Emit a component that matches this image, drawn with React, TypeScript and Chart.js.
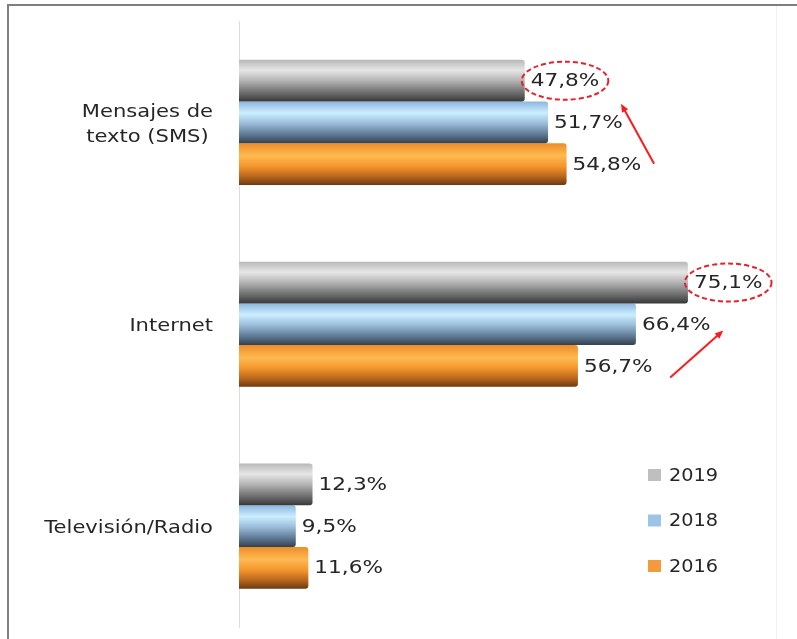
import React, { useEffect, useRef } from 'react';
import { Chart, registerables } from 'chart.js';

Chart.register(...registerables);

// ---------- data ----------
const categories: string[][] = [['Mensajes de', 'texto (SMS)'], ['Internet'], ['Televisión/Radio']];
const seriesLabels = ['2019', '2018', '2016'];
const values2019 = [47.8, 75.1, 12.3];
const values2018 = [51.7, 66.4, 9.5];
const values2016 = [54.8, 56.7, 11.6];
// labels circled with a dashed ellipse: [datasetIndex, dataIndex]
const highlighted: [number, number][] = [[0, 0], [0, 1]];

// ---------- styles ----------
const FONT = '"DejaVu Sans", "Open Sans", sans-serif';
const TEXT_COLOR = '#262626';
const legendColors = ['#bfbfbf', '#9dc3e6', '#f59a3c'];
const gradientStops: [number, string][][] = [
  [[0, '#b8b8b8'], [0.25, '#e6e6e6'], [0.5, '#b4b4b4'], [0.8, '#6a6a6a'], [1, '#383838']],
  [[0, '#8db6de'], [0.27, '#cbeeff'], [0.52, '#9cbddb'], [0.8, '#5b7691'], [1, '#34404c']],
  [[0, '#ee8d28'], [0.3, '#ffba52'], [0.55, '#f5962e'], [0.8, '#b8661c'], [1, '#6a3a12']],
];
// arrows relative to the centre of each highlighted label: [tailDx, tailDy, headDx, headDy]
const arrowOffsets: [number, number, number, number][] = [
  [89, 83, 56, 23],
  [-58, 95, -5, 48],
];

const fmt = (v: number) => v.toFixed(1).replace('.', ',') + '%';

// draws text slightly widened (the original uses a wide rendering of a Calibri-like face)
function drawText(ctx: CanvasRenderingContext2D, text: string, x: number, y: number, size: number, stretch: number, align: 'left' | 'right' | 'center') {
  ctx.font = `${size}px ${FONT}`;
  const w = ctx.measureText(text).width * stretch;
  let left = x;
  if (align === 'right') left = x - w;
  else if (align === 'center') left = x - w / 2;
  ctx.save();
  ctx.translate(left, y);
  ctx.scale(stretch, 1);
  ctx.textAlign = 'left';
  ctx.textBaseline = 'middle';
  ctx.fillText(text, 0, 0);
  ctx.restore();
  return w;
}
function textWidth(ctx: CanvasRenderingContext2D, text: string, size: number, stretch: number) {
  ctx.font = `${size}px ${FONT}`;
  return ctx.measureText(text).width * stretch;
}

const gradientPlugin = {
  id: 'barGradient',
  beforeDatasetsDraw(chart: any) {
    const ctx = chart.ctx;
    chart.data.datasets.forEach((_ds: any, di: number) => {
      const meta = chart.getDatasetMeta(di);
      meta.data.forEach((el: any) => {
        const top = el.y - el.height / 2;
        const g = ctx.createLinearGradient(0, top, 0, top + el.height);
        gradientStops[di].forEach(([o, c]) => g.addColorStop(o, c));
        el.options.backgroundColor = g;
      });
    });
  },
};

const categoryLabelPlugin = {
  id: 'categoryLabels',
  afterDraw(chart: any) {
    const ctx = chart.ctx;
    const ys = chart.scales.y;
    const right = chart.chartArea.left - 26;
    const size = 18, stretch = 1.17, lh = 25;
    ctx.save();
    ctx.fillStyle = TEXT_COLOR;
    categories.forEach((lines, i) => {
      const cy = ys.getPixelForValue(i) + 2;
      const widths = lines.map((l) => textWidth(ctx, l, size, stretch));
      const bw = Math.max(...widths);
      const cx = right - bw / 2;
      lines.forEach((l, k) => {
        const y = cy + (k - (lines.length - 1) / 2) * lh;
        drawText(ctx, l, cx, y, size, stretch, 'center');
      });
    });
    ctx.restore();
  },
};

const labelPlugin = {
  id: 'valueLabels',
  afterDatasetsDraw(chart: any) {
    const ctx = chart.ctx;
    const size = 18, stretch = 1.2;
    ctx.save();
    ctx.fillStyle = TEXT_COLOR;
    const centres: { x: number; y: number; w: number }[] = [];
    chart.data.datasets.forEach((ds: any, di: number) => {
      const meta = chart.getDatasetMeta(di);
      meta.data.forEach((el: any, i: number) => {
        const t = fmt(ds.data[i]);
        const x = el.x + 6;
        ctx.fillStyle = TEXT_COLOR;
        const w = drawText(ctx, t, x, el.y + 1, size, stretch, 'left');
        if (highlighted.some(([d, k]) => d === di && k === i)) {
          centres.push({ x: x + w / 2, y: el.y, w });
        }
      });
    });
    // dashed ellipses
    ctx.strokeStyle = '#e8202a';
    ctx.lineWidth = 2;
    ctx.setLineDash([5, 3]);
    centres.forEach((c) => {
      ctx.beginPath();
      ctx.ellipse(c.x, c.y, c.w / 2 + 9, 19, 0, 0, Math.PI * 2);
      ctx.stroke();
    });
    ctx.setLineDash([]);
    // arrows
    ctx.strokeStyle = '#ff1a1a';
    ctx.fillStyle = '#ff1a1a';
    centres.forEach((c, k) => {
      const off = arrowOffsets[k];
      if (!off) return;
      const tx = c.x + off[0], ty = c.y + off[1], hx = c.x + off[2], hy = c.y + off[3];
      const ang = Math.atan2(hy - ty, hx - tx);
      const hl = 9;
      ctx.beginPath();
      ctx.moveTo(tx, ty);
      ctx.lineTo(hx - Math.cos(ang) * hl * 0.8, hy - Math.sin(ang) * hl * 0.8);
      ctx.stroke();
      ctx.beginPath();
      ctx.moveTo(hx, hy);
      ctx.lineTo(hx - hl * Math.cos(ang - 0.4), hy - hl * Math.sin(ang - 0.4));
      ctx.lineTo(hx - hl * Math.cos(ang + 0.4), hy - hl * Math.sin(ang + 0.4));
      ctx.closePath();
      ctx.fill();
    });
    ctx.restore();
  },
};

const legendPlugin = {
  id: 'cornerLegend',
  afterDraw(chart: any) {
    const ctx = chart.ctx;
    const a = chart.chartArea;
    ctx.save();
    seriesLabels.forEach((lab, i) => {
      const y = a.bottom - 152 + i * 45.5;
      const x = a.right - 129;
      ctx.fillStyle = legendColors[i];
      ctx.fillRect(x, y - 6, 13, 12);
      ctx.fillStyle = TEXT_COLOR;
      drawText(ctx, lab, x + 21, y + 1, 18, 1.07, 'left');
    });
    ctx.restore();
  },
};

export default function App() {
  const ref = useRef<HTMLCanvasElement | null>(null);
  useEffect(() => {
    if (!ref.current) return;
    const solid = (c: string) => () => c;
    const chart = new Chart(ref.current, {
      type: 'bar',
      data: {
        labels: categories.map((l) => l.join(' ')),
        datasets: [
          { label: seriesLabels[0], data: values2019, backgroundColor: solid(legendColors[0]) as any },
          { label: seriesLabels[1], data: values2018, backgroundColor: solid(legendColors[1]) as any },
          { label: seriesLabels[2], data: values2016, backgroundColor: solid(legendColors[2]) as any },
        ],
      },
      options: {
        indexAxis: 'y',
        animation: false,
        responsive: false,
        maintainAspectRatio: false,
        devicePixelRatio: 1,
        layout: { padding: { left: 0, right: 20, top: 21.5, bottom: 12 } },
        datasets: {
          bar: {
            categoryPercentage: 0.62,
            barPercentage: 1,
            borderWidth: 0,
            borderRadius: { topLeft: 0, bottomLeft: 0, topRight: 3, bottomRight: 3 } as any,
            borderSkipped: false,
          },
        },
        plugins: {
          legend: { display: false },
          tooltip: { enabled: false },
          title: { display: false },
        },
        scales: {
          x: {
            display: false,
            min: 0,
            max: 90,
          },
          y: {
            grid: { display: false, drawTicks: false },
            border: { display: true, color: '#dcdcdc', width: 1 },
            ticks: { display: false },
            afterFit: (scale: any) => {
              scale.width = 239;
              scale.paddingTop = 0;
              scale.paddingBottom = 0;
            },
          },
        },
      },
      plugins: [gradientPlugin, labelPlugin, categoryLabelPlugin, legendPlugin],
    });
    return () => chart.destroy();
  }, []);

  return (
    <div style={{ position: 'fixed', left: 0, top: 0, width: 797, height: 639, background: '#fff', overflow: 'hidden' }}>
      <div
        style={{
          position: 'absolute',
          left: 7,
          top: 4,
          width: 800,
          height: 650,
          borderTop: '2px solid #7f7f7f',
          borderLeft: '2px solid #7f7f7f',
          boxSizing: 'border-box',
        }}
      />
      <div style={{ position: 'absolute', left: 776, top: 6, width: 1, height: 633, background: '#f0f0f0' }} />
      <canvas ref={ref} width={797} height={639} style={{ position: 'absolute', left: 0, top: 0, width: 797, height: 639 }} />
    </div>
  );
}
